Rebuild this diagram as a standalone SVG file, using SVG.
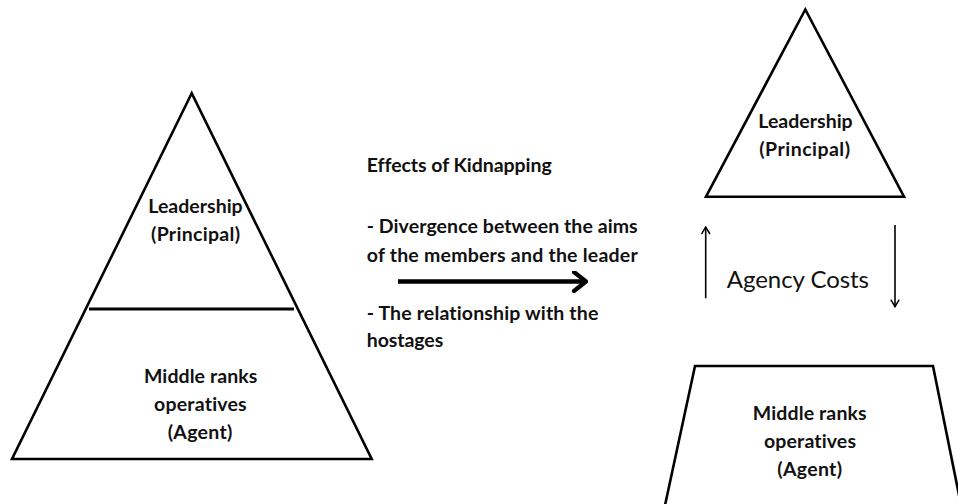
<svg xmlns="http://www.w3.org/2000/svg" width="958" height="504" viewBox="0 0 958 504">
  <style>
    .shape { fill: none; stroke: #000; stroke-width: 2.6; stroke-linejoin: miter; }
    .lbl { font-family: Lato, "Open Sans", "Liberation Sans", sans-serif; font-weight: bold; font-size: 19.5px; fill: #111; font-variant-ligatures: none; }
    .reg { font-family: Lato, "Open Sans", "Liberation Sans", sans-serif; font-weight: normal; font-size: 24px; fill: #111; font-variant-ligatures: none; }
    .thin { fill: none; stroke: #000; stroke-width: 1.6; }
    .thick { fill: none; stroke: #000; stroke-width: 4.5; }
  </style>
  <defs>
    <marker id="openHeadBig" viewBox="0 0 16 22" refX="14" refY="11" markerWidth="16" markerHeight="22" markerUnits="userSpaceOnUse" orient="auto">
      <polyline points="2,1.5 14,11 2,20.5" fill="none" stroke="#000" stroke-width="4.2" stroke-linecap="round" stroke-linejoin="round"/>
    </marker>
    <marker id="openHeadSmall" viewBox="0 0 10 10" refX="8.5" refY="5" markerWidth="10" markerHeight="10" markerUnits="userSpaceOnUse" orient="auto">
      <polyline points="1.5,0.8 8.5,5 1.5,9.2" fill="none" stroke="#000" stroke-width="1.5"/>
    </marker>
  </defs>

  <rect width="958" height="504" fill="#fff"/>

  <!-- Left pyramid: leadership above, middle ranks below -->
  <g id="pyramid-left">
    <polygon class="shape" points="191.7,93.3 12,459 371.7,459"/>
    <line x1="89" y1="309" x2="294" y2="309" stroke="#000" stroke-width="3"/>
    <text class="lbl" x="148.3" y="213.3" textLength="94.4">Leadership</text>
    <text class="lbl" x="151" y="240.5" textLength="89">(Principal)</text>
    <text class="lbl" x="144" y="383.3" textLength="113.3">Middle ranks</text>
    <text class="lbl" x="154" y="411" textLength="92.7">operatives</text>
    <text class="lbl" x="167.7" y="438.5" textLength="64.6">(Agent)</text>
  </g>

  <!-- Centre notes -->
  <g id="effects">
    <text class="lbl" x="366.7" y="171.7" textLength="185">Effects of Kidnapping</text>
    <text class="lbl" x="366.7" y="233.3" textLength="271">- Divergence between the aims</text>
    <text class="lbl" x="366.7" y="262" textLength="271">of the members and the leader</text>
    <text class="lbl" x="366.7" y="319.5" textLength="231.6">- The relationship with the</text>
    <text class="lbl" x="366.7" y="347" textLength="76.6">hostages</text>
  </g>

  <!-- Right: separated leadership triangle -->
  <g id="leadership-right">
    <polygon class="shape" points="805.3,9.5 706,196.7 904,196.7"/>
    <text class="lbl" x="758.3" y="128.3" textLength="94.4">Leadership</text>
    <text class="lbl" x="759.3" y="156" textLength="90.7">(Principal)</text>
  </g>

  <!-- Right: middle ranks trapezoid running off the bottom edge -->
  <g id="middle-ranks-right">
    <polyline class="shape" points="664,510 695,366 933,366 962,510"/>
    <text class="lbl" x="752.7" y="420" textLength="114">Middle ranks</text>
    <text class="lbl" x="764" y="447.5" textLength="92">operatives</text>
    <text class="lbl" x="777.3" y="475.5" textLength="64.7">(Agent)</text>
  </g>

  <g id="agency-costs">
    <text class="reg" x="726.7" y="287.7" textLength="142.3">Agency Costs</text>
  </g>

  <!-- Connectors -->
  <g id="connectors">
    <line class="thick" x1="398" y1="281.5" x2="586" y2="281.5" marker-end="url(#openHeadBig)"/>
    <line class="thin" x1="705.7" y1="298.3" x2="705.7" y2="227" marker-end="url(#openHeadSmall)"/>
    <line class="thin" x1="895" y1="225" x2="895" y2="306.7" marker-end="url(#openHeadSmall)"/>
  </g>
</svg>
